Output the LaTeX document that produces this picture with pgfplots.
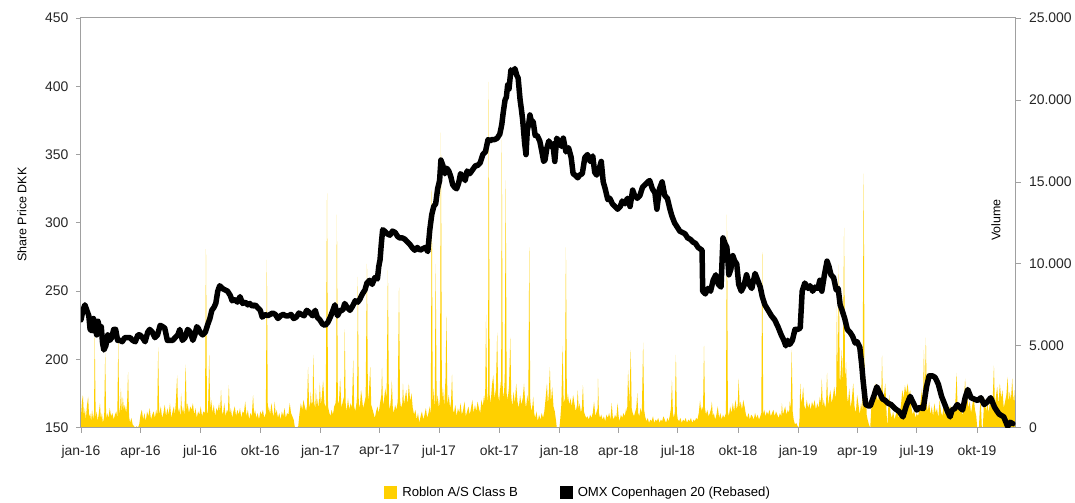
\documentclass[border=0pt]{standalone}
\usepackage{fontspec}
\setmainfont{Liberation Sans}
\usepackage{pgfplots}
\usepackage{pgfplotstable}
\pgfplotsset{compat=1.18}
\definecolor{roby}{RGB}{255,208,0}
\definecolor{axgray}{RGB}{160,160,160}

\pgfplotstableread{
d v
0 700
1.5 1600
3 2000
4.5 700
6 1200
7.5 500
9 1300
11 1900
12.5 600
14 900
15.5 400
17 1100
18.5 500
20 900
21 5700
22.5 600
24 1000
25.5 400
27 800
29 1500
30.5 500
32 900
33.5 300
35.5 700
37 4600
38.5 500
40 900
42 600
44 1200
46 700
48 900
50 500
52 800
54 1000
55.5 600
57 5250
58.5 800
60 1300
61 2400
62.5 900
64 1900
65.5 1100
67 1400
69 900
70.5 1500
72 3400
73.5 700
75 300
77 600
79 200
81 100
83 0
85 100
87 0
89 200
91 800
93 1100
95 500
97 900
99 400
101 1000
103 700
105 1200
107 500
109 800
111 1000
113 600
115 1100
116.5 700
118 4900
119.5 800
122 1300
124 600
126 900
128 1400
130 700
132 1200
134 800
136 1500
138 600
140 1000
142 1300
143.5 800
145 1600
147 3200
148.5 900
150 1200
152 700
153 2100
154.5 900
156 1300
158 700
160 3850
161.5 1000
163 1500
165 900
167 1300
169 1100
171 1500
173 800
175 1200
177 600
179 1000
181 800
183 1300
185 700
187 1000
189.5 900
191 10900
192.5 1200
194 700
196 4450
197.5 1100
199 1700
201 900
203 1400
205 700
207 1200
209 1000
211 1500
212.5 900
214 2300
215.5 1000
217 800
219 1500
221 700
223 1100
224.5 900
226 2600
227.5 800
229 1200
231 600
233 1000
235 1300
237 700
239 1100
241 800
243 1200
245 600
247 1000
249 900
251 1600
253 700
255 1100
257 500
259 900
261 700
263 2000
264.5 800
266 1100
268 600
270 900
272 500
274 1000
276 800
278 1100
280 600
282.5 900
284 10250
285.5 900
287 1300
289 800
291 1500
293 900
294.5 700
296 1600
297.5 800
299 1100
301 600
303 900
305 500
307 1000
309 700
311 1200
313 600
315 900
317 800
319 1500
321 900
323 700
325 500
327 0
330 0
332 100
334 900
336 1500
338 1100
340 1700
342 1300
344 1000
345.5 1400
347 3700
348.5 1500
350 1200
351 2200
352.5 1400
354 1600
355 4450
356.5 1500
358 1200
359 2400
360.5 1300
362 1800
363.5 1100
365 2750
366.5 1400
368 1900
370 2900
372 1500
374 1200
376 14300
377.5 1300
379 1000
381 700
383 1100
385 800
387 1300
389 1500
390 2000
391 13000
392.5 1700
394 1400
396 3000
398 1200
400 1600
402 1900
403 6000
404.5 1500
406 1000
408 1800
410 1100
412 1500
414 1200
416 4150
417.5 1300
419 1000
421 1500
422 2000
423 9200
424.5 1500
426 1200
428 2300
429.5 1800
431 1200
433 1500
435 1900
437 10000
438.5 1600
440 2200
442 3700
443.5 1400
445 1200
447 900
449 600
451 1000
453 1300
455 900
457 1500
459 2000
460 3650
461.5 1400
463 1700
465 2400
467 1800
469 9600
470.5 1500
472 1100
474 1900
475 2900
476.5 1200
478 900
480 1400
482 1100
484 1600
486 8550
487.5 1700
489 1200
491 1500
492 2700
493.5 1400
495 1800
497 2300
499 1400
501 2700
503 1600
505 2100
507 1200
509 800
511 1100
513 500
515 900
517 300
519 700
521 1000
523 500
525 800
527 1200
529 600
531 900
533 1300
534.5 800
536 14500
537.5 1500
539 2400
540.5 1000
542 10000
543.5 1400
545 2000
547 1200
548.5 1800
550 18000
551.5 1600
553 2500
555 1300
557 3000
558.5 6800
560 1400
562 2000
564 1200
565.5 1600
567 3250
568.5 1100
570 900
572 1400
574 700
576 1200
578 900
580 1500
582 800
584 1100
586 1600
588 700
590 1000
592 1300
594 800
596 1200
598 1700
600 900
602 1400
604 1000
606 1600
608 1200
610 900
612 1700
614 1300
616 2000
617.5 1500
619 6900
620.5 2200
622 1500
623 21100
624.5 2000
626 1500
628 2600
630 3200
632 1800
634 2400
636 5800
637.5 2000
639 1600
641 2800
642 1900
643 17600
644.5 2300
646 1800
647.5 3000
649 15100
650.5 2100
652 1700
654 2500
656 5500
657.5 1900
659 1300
661 2200
663 1500
665 2700
667 1600
669 1200
671 2000
673 1400
675 1800
677 2700
678.5 1700
680 1200
682 2000
683.5 1500
685 11000
686.5 1700
688 1000
690 1400
691 1900
692.5 900
694 600
696 1000
698 400
700 800
702 500
704 900
706 600
708 1000
710 1800
712 2700
713.5 1400
715 2200
716.5 3700
718 1500
720 2500
722 1300
724 1000
726 400
727 0
731 0
732.5 600
734 1400
736 5000
737.5 1500
739.5 1800
741 11000
742.5 1500
744 2100
746 1400
748 1800
750 1300
752 2000
754 1500
756 1000
758 1400
759 2300
760.5 1100
762 1500
764 900
765.5 1300
767 2600
768.5 1000
770 800
772 600
774 700
776 500
778 800
780 600
782 900
784 1600
786 700
788 1000
789.5 1200
790 3000
791.5 900
793 600
795 800
797 500
799 700
801 400
803 800
805 600
807 900
809 500
811 1500
812.5 700
814 500
816 800
818 600
820 1500
821.5 700
823 400
825 800
827 600
829 900
831 700
833 1200
834.5 900
836 3500
838 1400
840 4750
841.5 1200
843 900
845 700
847 1000
848.5 1200
850 2100
851.5 900
853 700
855 1200
857 900
859 5200
860.5 1100
862 700
864 400
866 600
868 300
870 500
872 400
874 700
876 300
878 500
880 400
882 600
884 300
886 500
888 400
890 700
892 500
894 300
896 600
898 400
900 800
901.5 1200
903 2900
904.5 900
906 600
907.5 1000
909 4450
910.5 900
912 500
914 400
916 600
918 300
920 500
922 400
924 600
926 300
928 500
930 400
932 600
934 300
936 500
938 400
940 600
942 500
944 900
946 1700
947.5 1000
949 1300
950.5 1100
952 5000
953.5 1200
955 800
957 1100
959 700
961 900
963 1200
964 1600
965.5 700
967 900
969 500
971 800
973 1300
975 600
977 900
979 500
981 800
983 600
985.5 900
987 13000
988.5 1000
990 700
992 1300
994 900
996 1500
998 1000
1000 1700
1002 1100
1003.5 1400
1005 3000
1006.5 1200
1008 1600
1010 1100
1012 1700
1014 1300
1016 800
1018 600
1020 900
1022 500
1024 800
1026 700
1028 500
1030 900
1032 600
1034 800
1036 500
1038 700
1039.5 900
1041 10700
1042.5 800
1044 1100
1046 700
1048 1000
1050 800
1052 1100
1054 700
1056 900
1058 1100
1060 700
1062 1000
1064 800
1066 600
1068 900
1070 700
1071 1500
1072.5 800
1074 1000
1076 1300
1078 800
1080 1100
1082 900
1083 1600
1084.5 1200
1086 4750
1087.5 1000
1089 500
1091 200
1093 300
1095 100
1097 0
1098 600
1099 2700
1100.5 1500
1102 1800
1103.5 2500
1105 1400
1107 1100
1109 1700
1111 1200
1113 1500
1115 1100
1117 1600
1119 1300
1121 1700
1123 1100
1125 1500
1127 1200
1129 1900
1130.5 1400
1132 3000
1133.5 1300
1135 1700
1137 1200
1138.5 1500
1140 3350
1141.5 1400
1143 1800
1145 2300
1147 1500
1149 1900
1151 2500
1153 1800
1154 2200
1155 7400
1156.5 3000
1158 9950
1159.5 2500
1161 3500
1162.5 4750
1164 2500
1166 12200
1167.5 2800
1169 4000
1170.5 2000
1172 1500
1174 2400
1176 1200
1178 1800
1180 2700
1182 1300
1184 900
1186 2000
1188 1400
1190 800
1192 1500
1194 1000
1196 15500
1197.5 1200
1199 3100
1200.5 800
1202 500
1204 200
1206 0
1208 1500
1210 2300
1212 1800
1214 2700
1216 2000
1218 1600
1220 2400
1222 1800
1223 2200
1224 4400
1225.5 1500
1227 2000
1229 2700
1231 900
1232 0
1233.5 1200
1235 2000
1237 900
1239 600
1241 1000
1243 500
1245 800
1247 1100
1249 600
1251 900
1253 1400
1255 2300
1257 1800
1259 2600
1261 2100
1263 2700
1265 2000
1267 2300
1269 1200
1271 800
1273 1100
1275 600
1277 900
1279 700
1281 1100
1283 1600
1285 2400
1286.5 1500
1288 4750
1289.5 2000
1291 5500
1292.5 1400
1294 1000
1296 1600
1298 800
1300 1300
1302 700
1304 1500
1306 900
1308 1200
1310 600
1312 1700
1314 1000
1316 700
1318 1300
1320 800
1322 1100
1324 500
1326 1000
1328 1400
1330 700
1332 1200
1334 900
1336 1500
1338 3350
1339.5 1100
1341 1600
1343 900
1345 1300
1347 700
1349 1500
1351 3000
1352.5 1300
1354 2000
1356 1200
1358 1600
1360 900
1362 1400
1364 1900
1366 1100
1368 700
1369.5 0
1372 0
1373.5 1200
1375 1600
1376.5 0
1378 0
1379.5 1300
1381 1800
1383 1000
1385 1500
1387 900
1389 1700
1391 1200
1393 1600
1395 3800
1396.5 1400
1398 1900
1400 2500
1402 1400
1404 2700
1406 1800
1408 2300
1410 1200
1412 1600
1414 2000
1416 3100
1417.5 1500
1419 2200
1421 1700
1423 3000
1424.5 1500
1426 2300
1427 1500
1428 1400
}\voltable

\pgfplotstableread{
d p
0 229
3 236
6 240
9 236
12 232
14 222
17 221
19 230
21 227
24 218
26 228
29 222
31 224
33 212
35 207
38 210
41 218
44 214
47 216
50 222
53 222
56 214
60 214
63 213
67 216
71 216
75 216
79 214
83 213
87 218
90 218
94 216
98 213
102 220
105 222
109 220
113 216
117 218
121 225
125 224
128 223
132 214
136 214
140 214
144 216
148 218
151 222
155 214
159 216
163 222
167 220
171 214
174 218
177 224
179 223
182 220
186 218
190 220
194 226
197 230
200 236
203 238
206 241
209 250
212 254
216 252
220 251
224 250
228 247
231 243
235 244
239 242
243 246
247 241
251 242
255 240
258 241
262 239
266 240
270 238
274 236
277 231
281 233
285 232
289 233
293 234
297 233
301 230
305 232
309 233
313 232
317 232
321 233
325 230
329 231
333 234
337 233
341 232
345 236
350 234
354 232
358 236
361 231
365 229
369 226
373 225
377 227
381 231
385 236
388 240
392 232
396 236
400 236
403 241
407 238
411 236
415 239
419 243
423 242
426 244
430 248
434 251
437 256
441 258
445 255
449 260
453 259
455 268
457 273
459 285
461 295
464 294
468 292
472 291
476 294
480 293
484 290
487 289
491 289
495 288
499 286
503 284
506 282
510 280
514 282
518 280
522 281
526 282
530 279
533 295
536 306
539 312
542 314
545 325
548 331
550 346
553 342
556 336
559 340
562 338
565 334
568 328
571 326
574 325
577 329
580 336
584 334
587 331
590 338
594 336
597 338
600 340
603 342
606 342
610 344
614 350
618 352
622 361
625 360
628 361
632 361
636 362
640 365
643 372
645 380
648 390
650 392
652 401
654 398
657 412
660 410
663 413
666 408
668 406
671 390
673 383
675 375
678 358
680 350
682 368
684 372
686 379
688 375
691 374
694 364
697 364
701 360
704 353
707 345
709 346
712 355
715 360
718 356
721 358
724 345
727 362
730 360
734 356
737 362
741 352
745 355
749 348
752 336
755 335
759 333
762 335
766 336
770 348
774 350
778 345
782 349
785 337
788 335
792 340
795 345
798 330
801 325
805 317
808 318
812 314
816 312
820 310
824 312
827 316
831 314
835 318
839 312
843 324
846 320
850 318
854 320
858 326
862 328
866 330
869 331
873 325
877 322
880 310
884 325
888 330
892 320
896 318
900 310
903 305
907 300
911 297
915 294
919 293
923 292
927 289
931 288
935 286
939 285
943 282
946 281
949 280
950 250
954 248
958 252
962 250
966 258
970 262
974 255
978 253
981 289
984 285
987 282
990 262
993 266
996 276
999 272
1002 270
1005 255
1009 250
1013 254
1017 262
1021 255
1025 252
1030 263
1034 258
1038 253
1041 246
1045 240
1050 236
1055 232
1060 229
1065 224
1070 218
1074 214
1077 210
1080 214
1083 211
1087 214
1091 222
1095 222
1099 223
1102 250
1106 256
1111 252
1114 254
1118 250
1122 253
1126 252
1129 258
1132 250
1136 262
1140 272
1143 268
1146 262
1150 260
1154 251
1157 252
1160 240
1163 236
1167 230
1171 222
1175 220
1179 217
1183 212
1186 213
1190 209
1193 196
1195 185
1197 176
1199 167
1203 166
1206 166
1212 174
1216 180
1220 176
1225 171
1229 170
1233 168
1238 167
1244 164
1250 162
1256 158
1261 166
1267 173
1272 168
1277 163
1282 165
1287 164
1292 180
1296 188
1301 188
1305 187
1310 182
1315 173
1320 167
1324 162
1328 158
1331 163
1335 164
1339 167
1343 165
1347 163
1351 172
1355 178
1360 172
1365 171
1370 170
1375 172
1380 167
1385 169
1390 172
1396 165
1400 162
1403 160
1410 158
1416 151
1420 154
1424 153
}\pricetable

\begin{document}
\begin{tikzpicture}
\pgfplotsset{
  base/.style={
    width=935bp, height=410bp, scale only axis,
    xmin=0, xmax=1428,
    /pgf/number format/assume math mode=true,
    ticklabel style={font=\fontsize{14}{16}\selectfont, text=black!85},
    tick align=outside,
    major tick length=5bp,
    tick style={axgray, line width=0.8bp},
    axis line style={axgray, line width=1bp},
  }
}
\begin{axis}[base, name=vol,
  axis x line=none, axis y line*=right,
  ymin=0, ymax=25000, ytick={0,5000,10000,15000,20000,25000},
  scaled y ticks=false,
  yticklabel style={/pgf/number format/.cd, 1000 sep={.}, fixed, /tikz/.cd, xshift=5bp},
  ylabel={Volume},
  ylabel style={at={(axis description cs:0.979,0.507)}, anchor=center, rotate=0, font=\fontsize{12.5}{14}\selectfont},
]
\addplot[fill=roby, draw=none] table[x=d, y=v] {\voltable} \closedcycle;
\end{axis}
\begin{axis}[base, name=price,
  ymin=150, ymax=450, ytick={150,200,...,450}, ytick pos=left, xtick pos=bottom,
  xtick={0,91,182,274,366,456,547,639,731,821,912,1004,1096,1186,1277,1369},
  xticklabels={jan-16,apr-16,jul-16,okt-16,jan-17,apr-17,jul-17,okt-17,jan-18,apr-18,jul-18,okt-18,jan-19,apr-19,jul-19,okt-19},
  xticklabel style={yshift=-9bp},
  yticklabel style={xshift=-4bp},
  ylabel={Share Price DKK},
  ylabel style={at={(axis description cs:-0.0631,0.52)}, anchor=center, font=\fontsize{12.5}{14}\selectfont},
  legend style={at={(axis description cs:0.532,-0.159)}, anchor=center, draw=none,
    font=\fontsize{13.2}{15}\selectfont, legend columns=2,
    /tikz/every even column/.append style={column sep=40bp},
    /tikz/every odd column/.append style={column sep=3bp}},
  legend image code/.code={\fill[#1] (0bp,-6.5bp) rectangle (13bp,6.5bp);},
]
\addlegendimage{fill=roby, draw=none}
\addlegendentry{Roblon A/S Class B}
\addlegendimage{fill=black, draw=none}
\addlegendentry{OMX Copenhagen 20 (Rebased)}
\addplot[black, line width=5.5bp, line join=round, line cap=round, forget plot] table[x=d, y=p] {\pricetable};
\end{axis}
\path (price.south west) ++(-81bp,-73bp) rectangle ++(1075bp,501bp);
\end{tikzpicture}
\end{document}
